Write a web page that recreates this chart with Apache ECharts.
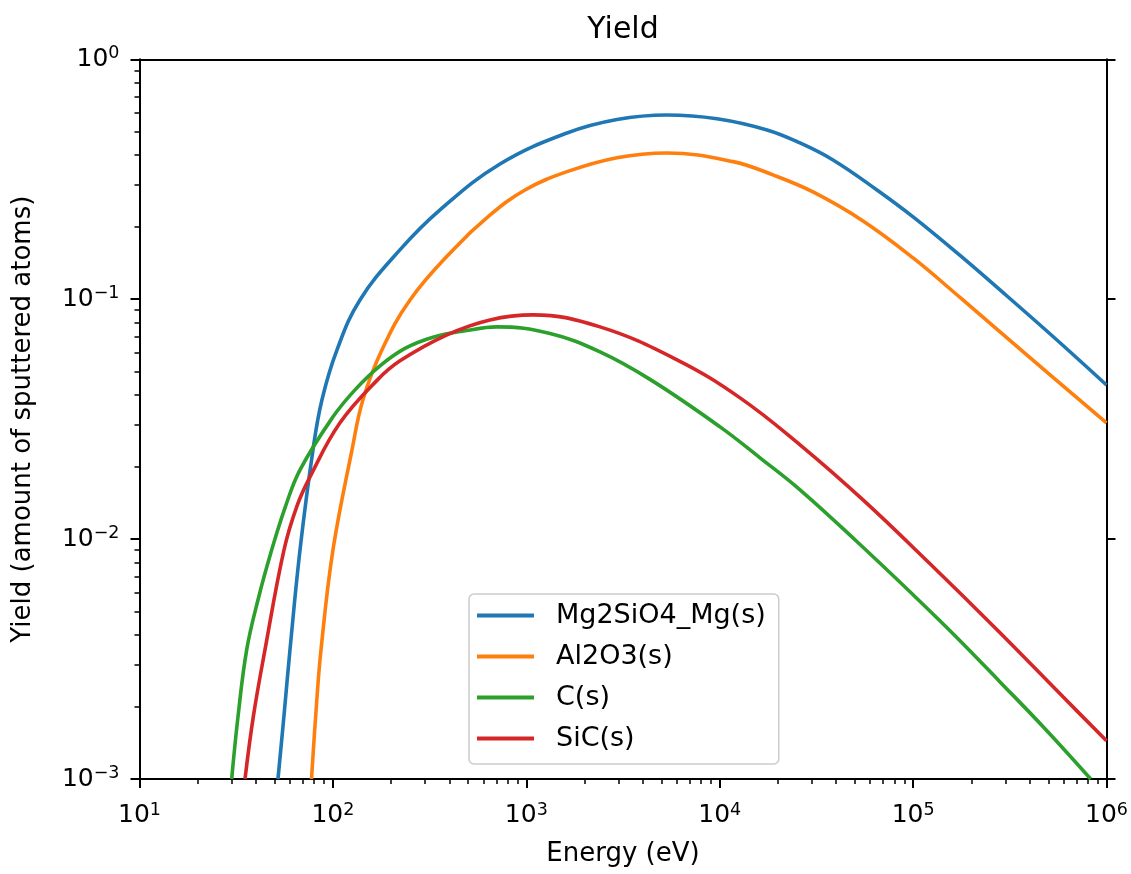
<!DOCTYPE html>
<html><head><meta charset="utf-8">
<script src="https://cdn.jsdelivr.net/npm/echarts@6/dist/echarts.min.js"></script>
<style>html,body{margin:0;padding:0;background:#fff}#c{width:1131px;height:874px}</style>
</head><body><div id="c"></div>
<script>
// ---- data ----
const seriesNames = ['Mg2SiO4_Mg(s)', 'Al2O3(s)', 'C(s)', 'SiC(s)'];
const seriesColors = ['#1f77b4', '#ff7f0e', '#2ca02c', '#d62728'];

const mgEnergy = [52.0, 55.9, 60.0, 67.6, 78.9, 87.8, 105, 138, 222, 358, 731, 1624, 2944, 5340, 9683, 17570, 26020, 38540, 65060, 100000, 174800, 281400, 528900, 1000000];
const mgYield  = [0.001, 0.00185, 0.00346, 0.00902, 0.0236, 0.0381, 0.0615, 0.0993, 0.1605, 0.2356, 0.3662, 0.4931, 0.5612, 0.586, 0.5652, 0.5076, 0.4479, 0.3805, 0.2853, 0.2203, 0.1522, 0.1093, 0.0699, 0.0439];

const alEnergy = [77.5, 81.77, 86.8, 100.1, 125.6, 143.0, 179.4, 250.4, 417.8, 641.5, 984.7, 1624, 2944, 5340, 11720, 18860, 30370, 55080, 100000, 174800, 281400, 528900, 1000000];
const alYield  = [0.001, 0.00191, 0.00346, 0.00902, 0.0236, 0.0381, 0.0615, 0.0993, 0.1605, 0.2224, 0.2853, 0.3401, 0.389, 0.4071, 0.3745, 0.3296, 0.2800, 0.2120, 0.1486, 0.1017, 0.0731, 0.0472, 0.0305];

const cEnergy = [29.97, 32.31, 35.84, 41.01, 48.27, 56.54, 67.6, 100.1, 130.1, 175.2, 235.9, 329.3, 482.0, 705.6, 1326, 2405, 4362, 10040, 16160, 26020, 50680, 100000, 166700, 281400, 480800, 828400];
const cYield  = [0.001, 0.00182, 0.00346, 0.00559, 0.00902, 0.0135, 0.01944, 0.03233, 0.04189, 0.05274, 0.06237, 0.06946, 0.07383, 0.07665, 0.07196, 0.06032, 0.04632, 0.02937, 0.02182, 0.01605, 0.00984, 0.00586, 0.00392, 0.00254, 0.00162, 0.001];

const sicEnergy = [35.12, 38.77, 44.56, 55.87, 65.24, 76.15, 108.8, 169.0, 222.3, 389.0, 649.2, 1083, 2405, 6015, 12740, 26020, 55080, 122300, 281400, 595800, 1000000];
const sicYield  = [0.001, 0.00182, 0.00346, 0.00902, 0.01376, 0.01818, 0.03052, 0.04588, 0.05533, 0.07101, 0.08199, 0.08604, 0.07665, 0.05587, 0.03879, 0.02471, 0.01457, 0.00789, 0.00407, 0.0022, 0.001444];

const xMajorTicks = [1e1, 1e2, 1e3, 1e4, 1e5, 1e6];
const yMajorTicks = [1e-3, 1e-2, 1e-1, 1e0];

const titleText = 'Yield';
const xAxisTitle = 'Energy (eV)';
const yAxisTitle = 'Yield (amount of sputtered atoms)';

// ---- build ----
function minorTicks(majors) {
  const out = [];
  for (let i = 0; i < majors.length - 1; i++) {
    for (let k = 2; k <= 9; k++) out.push(+(majors[i] * k).toPrecision(6));
  }
  return out;
}
function pairs(xs, ys) { return xs.map((x, i) => [x, ys[i]]); }

const FONT = 'DejaVu Sans';
const supRich = {
  b: { fontSize: 25, fontFamily: FONT, color: '#000' },
  s: { fontSize: 17.5, fontFamily: FONT, color: '#000', padding: [0, 0, 11, 0] }
};
function powLabel(v) {
  const e = Math.round(Math.log10(v));
  return '{b|10}{s|' + (e < 0 ? '\u2212' + (-e) : e) + '}';
}

const xMin = xMajorTicks[0], xMax = xMajorTicks[xMajorTicks.length - 1];
const yMin = yMajorTicks[0], yMax = yMajorTicks[yMajorTicks.length - 1];

const lineStyleAxis = { color: '#000', width: 2 };

const dataSets = [pairs(mgEnergy, mgYield), pairs(alEnergy, alYield), pairs(cEnergy, cYield), pairs(sicEnergy, sicYield)];

const option = {
  animation: false,
  backgroundColor: '#fff',
  grid: { left: 139.5, right: 24.5, top: 59.3, bottom: 95, containLabel: false, outerBoundsMode: 'none' },
  legend: {
    data: seriesNames,
    orient: 'vertical',
    left: 469, top: 594,
    padding: [8, 13, 12, 8],
    itemGap: 14,
    itemWidth: 57, itemHeight: 4,
    icon: 'rect',
    backgroundColor: 'rgba(255,255,255,0.8)',
    borderColor: '#cccccc', borderWidth: 1.5, borderRadius: 5,
    textStyle: { fontSize: 27, fontFamily: FONT, color: '#000', padding: [0, 0, 0, 17], lineHeight: 27 }
  },
  xAxis: [
    {
      type: 'log', logBase: 10, min: xMin, max: xMax, position: 'bottom',
      name: xAxisTitle, nameLocation: 'middle', nameGap: 62,
      nameTextStyle: { fontSize: 26, fontFamily: FONT, color: '#000' },
      axisLine: { show: true, onZero: false, lineStyle: lineStyleAxis },
      axisTick: { show: true, customValues: xMajorTicks, length: 9, lineStyle: { color: '#000', width: 2 } },
      axisLabel: { show: true, customValues: xMajorTicks, margin: 22, formatter: powLabel, rich: supRich, color: '#000' },
      splitLine: { show: false }, minorTick: { show: false }, minorSplitLine: { show: false }
    },
    {
      type: 'log', logBase: 10, min: xMin, max: xMax, position: 'bottom',
      axisLine: { show: false },
      axisTick: { show: true, customValues: minorTicks(xMajorTicks), length: 5, lineStyle: { color: '#000', width: 1.5 } },
      axisLabel: { show: false }, splitLine: { show: false }
    },
    {
      type: 'log', logBase: 10, min: xMin, max: xMax, position: 'top',
      name: titleText, nameLocation: 'middle', nameGap: 14,
      nameTextStyle: { fontSize: 30, fontFamily: FONT, color: '#000' },
      axisLine: { show: true, onZero: false, lineStyle: lineStyleAxis },
      axisTick: { show: false }, axisLabel: { show: false }, splitLine: { show: false }
    }
  ],
  yAxis: [
    {
      type: 'log', logBase: 10, min: yMin, max: yMax, position: 'left',
      name: yAxisTitle, nameLocation: 'middle', nameGap: 103,
      nameTextStyle: { fontSize: 26, fontFamily: FONT, color: '#000' },
      axisLine: { show: true, onZero: false, lineStyle: lineStyleAxis },
      axisTick: { show: true, customValues: yMajorTicks, length: 9, lineStyle: { color: '#000', width: 2 } },
      axisLabel: { show: true, customValues: yMajorTicks, margin: 20, formatter: powLabel, rich: supRich, color: '#000' },
      splitLine: { show: false }
    },
    {
      type: 'log', logBase: 10, min: yMin, max: yMax, position: 'left',
      axisLine: { show: false },
      axisTick: { show: true, customValues: minorTicks(yMajorTicks), length: 5, lineStyle: { color: '#000', width: 1.5 } },
      axisLabel: { show: false }, splitLine: { show: false }
    },
    {
      type: 'log', logBase: 10, min: yMin, max: yMax, position: 'right',
      axisLine: { show: true, onZero: false, lineStyle: lineStyleAxis },
      axisTick: { show: true, customValues: yMajorTicks, length: 9, lineStyle: { color: '#000', width: 2 } },
      axisLabel: { show: false }, splitLine: { show: false }
    }
  ],
  series: seriesNames.map((name, i) => ({
    name: name,
    type: 'line',
    xAxisIndex: 0, yAxisIndex: 0,
    data: dataSets[i],
    showSymbol: false,
    smooth: 0.4,
    clip: true,
    color: seriesColors[i],
    lineStyle: { width: 3.6, color: seriesColors[i] },
    emphasis: { disabled: true }
  }))
};

const chart = echarts.init(document.getElementById('c'), null, { renderer: 'canvas' });
chart.setOption(option);
</script>
</body></html>
